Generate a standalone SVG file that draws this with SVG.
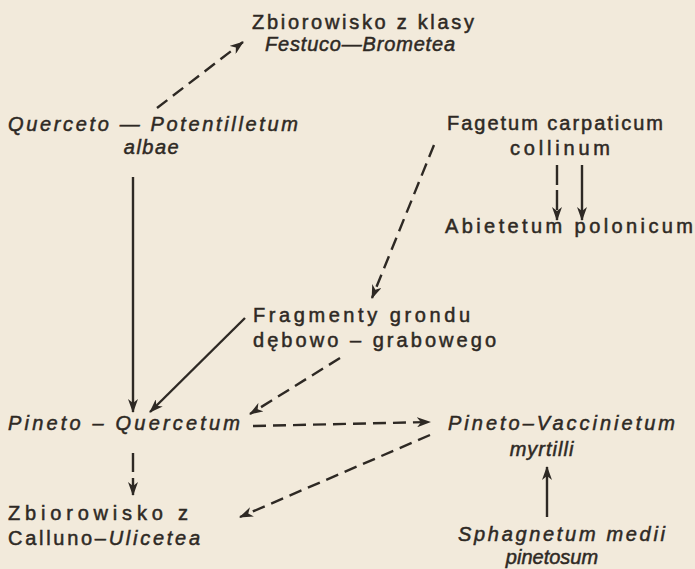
<svg xmlns="http://www.w3.org/2000/svg" width="695" height="569" viewBox="0 0 695 569">
<defs>
<style>
text{font-family:"Liberation Sans","DejaVu Sans",sans-serif;font-size:20px;fill:#2e2924;stroke:#2e2924;stroke-width:0.5}
.i{font-style:italic}
.m{text-anchor:middle}
.c{stroke:#2e2924;stroke-width:2.4;fill:none}
.d{stroke-dasharray:13 7}
</style>
<marker id="ah" viewBox="0 0 14 10" markerWidth="14" markerHeight="10" refX="13" refY="5" orient="auto" markerUnits="userSpaceOnUse">
<path d="M0,0 L14,5 L0,10 L4,5 z" fill="#2e2924"/>
</marker>
</defs>
<rect width="695" height="569" fill="#f2eadb"/>
<g id="connectors">
<line class="c d" x1="157" y1="108" x2="243" y2="42" marker-end="url(#ah)"/>
<line class="c d" x1="434" y1="145" x2="372" y2="298" marker-end="url(#ah)"/>
<line class="c" style="stroke-dasharray:20 5" x1="557" y1="165" x2="557" y2="220" marker-end="url(#ah)"/>
<line class="c" x1="582" y1="165" x2="582" y2="220" marker-end="url(#ah)"/>
<line class="c" x1="133" y1="177" x2="133" y2="412" marker-end="url(#ah)"/>
<line class="c" x1="245" y1="318" x2="150" y2="412" marker-end="url(#ah)"/>
<line class="c d" x1="340" y1="358" x2="250" y2="414" marker-end="url(#ah)"/>
<line class="c d" x1="253" y1="426" x2="430" y2="422" marker-end="url(#ah)"/>
<line class="c d" x1="430" y1="435" x2="240" y2="517" marker-end="url(#ah)"/>
<line class="c" style="stroke-dasharray:19 6" x1="133" y1="453" x2="133" y2="495" marker-end="url(#ah)"/>
<line class="c" x1="547" y1="517" x2="547" y2="467" marker-end="url(#ah)"/>
</g>
<g id="festuco">
<text x="252" y="29" textLength="222" lengthAdjust="spacing">Zbiorowisko z klasy</text>
<text class="i" x="265" y="51" textLength="190" lengthAdjust="spacing">Festuco—Brometea</text>
</g>
<g id="querceto">
<text class="i" x="8" y="131" textLength="290" lengthAdjust="spacing">Querceto — Potentilletum</text>
<text class="i m" x="152" y="154" letter-spacing="1.5">albae</text>
</g>
<g id="fagetum">
<text x="447" y="130" textLength="216" lengthAdjust="spacing">Fagetum carpaticum</text>
<text x="510" y="155" textLength="100" lengthAdjust="spacing">collinum</text>
</g>
<g id="abietetum">
<text x="445" y="233" textLength="248" lengthAdjust="spacing">Abietetum polonicum</text>
</g>
<g id="fragmenty">
<text x="253" y="322" textLength="217" lengthAdjust="spacing">Fragmenty grondu</text>
<text x="253" y="347" textLength="243" lengthAdjust="spacing">dębowo – grabowego</text>
</g>
<g id="pineto-quercetum">
<text class="i" x="8" y="430" textLength="232" lengthAdjust="spacing">Pineto – Quercetum</text>
</g>
<g id="pineto-vaccinietum">
<text class="i" x="448" y="430" textLength="227" lengthAdjust="spacing">Pineto–Vaccinietum</text>
<text class="i m" x="542" y="456" letter-spacing="1">myrtilli</text>
</g>
<g id="calluno">
<text x="8" y="520" textLength="180" lengthAdjust="spacing">Zbiorowisko z</text>
<text x="8" y="545" textLength="192" lengthAdjust="spacing">Calluno–<tspan class="i">Ulicetea</tspan></text>
</g>
<g id="sphagnetum">
<text class="i" x="458" y="541" textLength="207" lengthAdjust="spacing">Sphagnetum medii</text>
<text class="i m" x="552" y="564">pinetosum</text>
</g>
</svg>
